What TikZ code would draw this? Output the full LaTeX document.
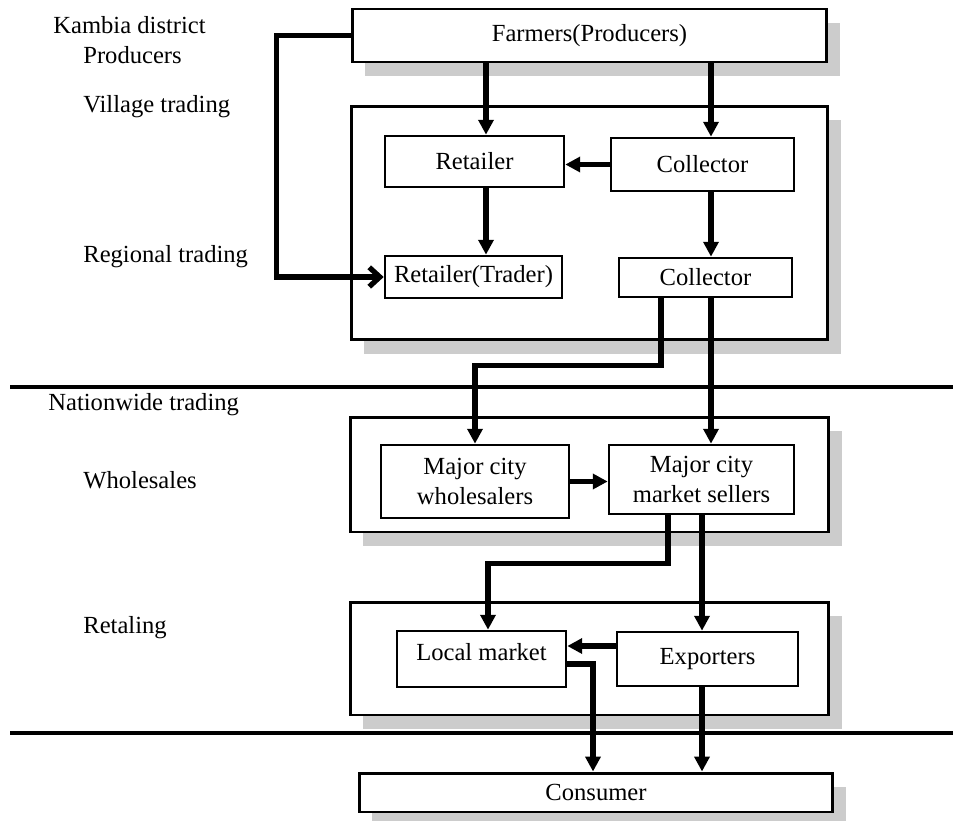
\documentclass[tikz,border=0pt]{standalone}
\usepackage{fontspec}
\setmainfont{Liberation Serif}
\usetikzlibrary{arrows.meta,shadows}

\begin{document}
\begin{tikzpicture}[x=0.02cm, y=-0.02cm,
    every node/.style={font=\fontsize{14}{17}\selectfont},
    stage/.style={draw, line width=1.7pt, fill=white, inner sep=0pt,
        drop shadow={shadow xshift=0.26cm, shadow yshift=-0.28cm, opacity=1, fill=black!20}},
    agent/.style={draw, line width=1.5pt, fill=white, align=center, inner sep=0pt},
    flow/.style={line width=3pt, -{Triangle[length=8.5pt,width=8.5pt]}},
    level/.style={anchor=west, inner sep=0pt}]
    \useasboundingbox (0,0) rectangle (953,821);

    % Level labels
    \node[level] (kambia) at (53,25) {Kambia district};
    \node[level] (producers) at (83,55) {Producers};
    \node[level] (village) at (83,107) {Village trading};
    \node[level] (regional) at (83,257) {Regional trading};
    \node[level] (nation) at (48,405) {Nationwide trading};
    \node[level] (wholesale) at (83,480) {Wholesales};
    \node[level] (retaling) at (83,628) {Retaling};

    % Separating lines
    \draw[line width=1.8pt] (10,387) -- (953,387);
    \draw[line width=1.8pt] (10,733) -- (953,733);

    % Stage boxes
    \node[stage, minimum width=9.5cm, minimum height=1.06cm] (farmers) at (589.5,35.5) {Farmers(Producers)};
    \node[stage, minimum width=9.54cm, minimum height=4.68cm] (regionbox) at (589.5,223) {};
    \node[stage, minimum width=9.58cm, minimum height=2.3cm] (wholebox) at (589.5,474.5) {};
    \node[stage, minimum width=9.58cm, minimum height=2.26cm] (retailbox) at (589.5,658.5) {};
    \node[stage, minimum width=9.48cm, minimum height=0.78cm] (consumer) at (596,792.5) {Consumer};

    % Traders
    \node[agent, minimum width=3.58cm, minimum height=1.02cm] (retailer) at (474.5,161.5) {Retailer};
    \node[agent, minimum width=3.66cm, minimum height=1.06cm] (collector) at (702.5,164.5) {Collector};
    \node[agent, minimum width=3.54cm, minimum height=0.84cm] (trader) at (473.5,277) {Retailer(Trader)};
    \node[agent, minimum width=3.46cm, minimum height=0.78cm] (collector2) at (705.5,277.5) {Collector};
    \node[agent, minimum width=3.76cm, minimum height=1.46cm] (wholesalers) at (475,481.5) {Major city\\wholesalers};
    \node[agent, minimum width=3.7cm, minimum height=1.38cm] (sellers) at (701.5,479.5) {Major city\\market sellers};
    \node[agent, minimum width=3.38cm, minimum height=1.12cm, text depth=0.28cm] (local) at (481.5,659) {Local market};
    \node[agent, minimum width=3.62cm, minimum height=1.08cm] (exporters) at (707.5,659) {Exporters};

    % Arrow columns and rows
    \coordinate (xA) at (486,0);
    \coordinate (xB) at (711,0);
    \coordinate (xC) at (661,0);
    \coordinate (xD) at (668,0);
    \coordinate (xE) at (488,0);
    \coordinate (xF) at (702,0);
    \coordinate (xG) at (593,0);
    \coordinate (yA) at (0,646);
    \coordinate (yB) at (0,664);

    % Flows
    \draw[flow] (farmers.south -| xA) -- (retailer.north -| xA);
    \draw[flow] (farmers.south -| xB) -- (collector.north -| xB);
    \draw[flow] (collector.west) -- (retailer.east |- collector.west);
    \draw[flow] (retailer.south -| xA) -- (trader.north -| xA);
    \draw[line width=3pt, -{Straight Barb[length=6pt,width=11pt]}] (farmers.west) -- ++(-74,0) |- (trader.west);
    \draw[flow] (collector.south -| xB) -- (collector2.north -| xB);
    \draw[flow] (collector2.south -| xC) -- ++(0,67) -| (wholesalers.north);
    \draw[flow] (collector2.south -| xB) -- (sellers.north -| xB);
    \draw[flow] (wholesalers.east) -- (sellers.west |- wholesalers.east);
    \draw[flow] (sellers.south -| xD) -- ++(0,48) -| (local.north -| xE);
    \draw[flow] (sellers.south -| xF) -- (exporters.north -| xF);
    \draw[flow] (exporters.west |- yA) -- (local.east |- yA);
    \draw[flow] (local.east |- yB) -| (consumer.north -| xG);
    \draw[flow] (exporters.south -| xF) -- (consumer.north -| xF);
\end{tikzpicture}
\end{document}
